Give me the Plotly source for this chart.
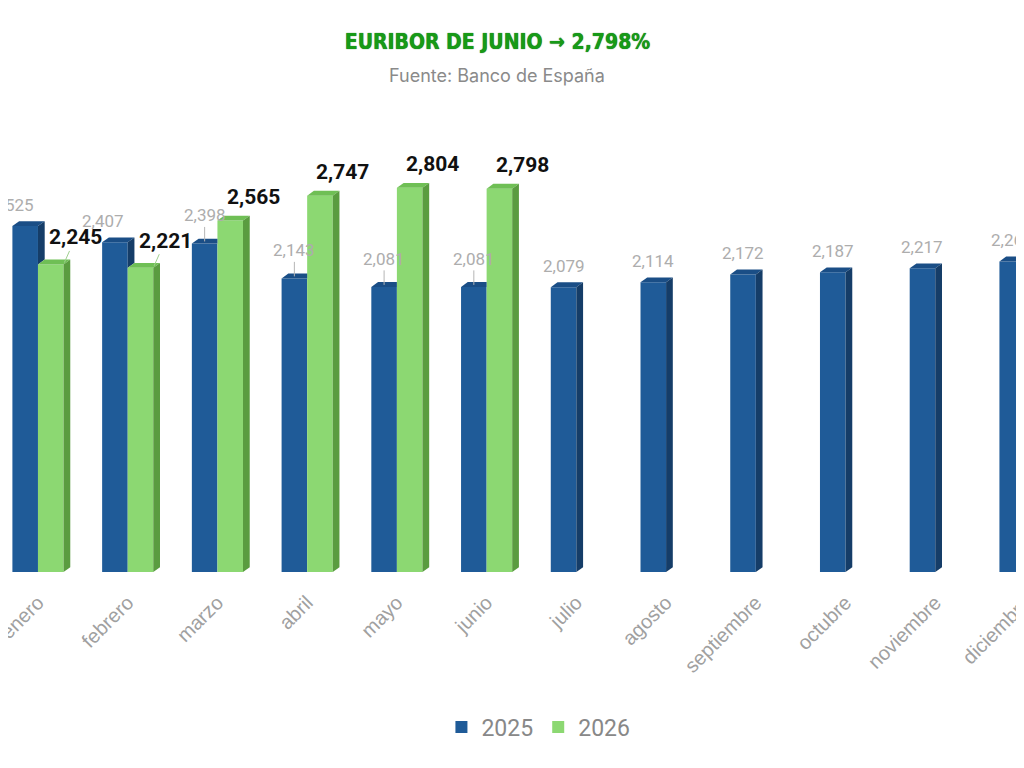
import plotly.graph_objects as go

# data
MONTHS = ['enero', 'febrero', 'marzo', 'abril', 'mayo', 'junio', 'julio',
          'agosto', 'septiembre', 'octubre', 'noviembre', 'diciembre']
EUR_2025 = [2.525, 2.407, 2.398, 2.143, 2.081, 2.081, 2.079,
            2.114, 2.172, 2.187, 2.217, 2.267]
EUR_2026 = [2.245, 2.221, 2.565, 2.747, 2.804, 2.798]

BLUE = '#1f5b98'
BLUE_TOP = '#1a4e86'
BLUE_SIDE = '#153d68'
GREEN = '#8cd872'
GREEN_TOP = '#6fbf55'
GREEN_SIDE = '#5a9c40'

W = 0.285      # bar width (x units)
DX = 0.075     # depth of the fake 3d
DY = 0.035


def fmt(v):
    return f'{v:.3f}'.replace('.', ',')


def poly(xs, ys, color):
    return go.Scatter(x=xs + [xs[0]], y=ys + [ys[0]], mode='lines', fill='toself',
                      fillcolor=color, line=dict(width=0), hoverinfo='skip',
                      showlegend=False)


idx = list(range(len(MONTHS)))
fig = go.Figure()

fig.add_trace(go.Bar(x=idx, y=EUR_2025, width=W, offset=-W, name='2025',
                     marker=dict(color=BLUE, line=dict(width=0))))
fig.add_trace(go.Bar(x=idx[:len(EUR_2026)], y=EUR_2026, width=W, offset=0, name='2026',
                     marker=dict(color=GREEN, line=dict(width=0))))

# top and side faces of the blue bars
for i, v in enumerate(EUR_2025):
    x0, x1 = i - W, i
    g = EUR_2026[i] if i < len(EUR_2026) else None
    if g is None:
        fig.add_trace(poly([x0, x0 + DX, x1 + DX, x1], [v, v + DY, v + DY, v], BLUE_TOP))
        fig.add_trace(poly([x1, x1 + DX, x1 + DX, x1], [0, DY, v + DY, v], BLUE_SIDE))
    elif v > g:
        fig.add_trace(poly([x0, x0 + DX, x1 + DX, x1], [v, v + DY, v + DY, v], BLUE_TOP))
        fig.add_trace(poly([x1, x1 + DX, x1 + DX, x1], [g, g + DY, v + DY, v], BLUE_SIDE))
    else:
        fig.add_trace(poly([x0, x0 + DX, x1, x1], [v, v + DY, v + DY, v], BLUE_TOP))

# top and side faces of the green bars
for i, v in enumerate(EUR_2026):
    x0, x1 = i, i + W
    fig.add_trace(poly([x0, x0 + DX, x1 + DX, x1], [v, v + DY, v + DY, v], GREEN_TOP))
    fig.add_trace(poly([x1, x1 + DX, x1 + DX, x1], [0, DY, v + DY, v], GREEN_SIDE))

annotations = []
for i, v in enumerate(EUR_2025):
    g = EUR_2026[i] if i < len(EUR_2026) else None
    xc = i - W / 2
    if g is not None and g > v:
        annotations.append(dict(x=xc, y=v, text=fmt(v), showarrow=True, arrowhead=0,
                                arrowwidth=1, arrowcolor='#b5b5b5', ax=0, ay=-28,
                                standoff=2, font=dict(size=17, color='#adadad', family='Roboto')))
    else:
        annotations.append(dict(x=xc, y=v, text=fmt(v), showarrow=False,
                                xshift=-12 if g is not None else 0, yshift=21,
                                font=dict(size=17, color='#adadad', family='Roboto')))

for i, v in enumerate(EUR_2026):
    b = EUR_2025[i]
    if b > v:
        annotations.append(dict(x=i + W, y=v, text=fmt(v), showarrow=True, arrowhead=0,
                                arrowwidth=1, arrowcolor='#9fcf8f', ax=12, ay=-27,
                                standoff=2, font=dict(size=21, color='#111111', family='Roboto',
                                                      weight='bold')))
    else:
        annotations.append(dict(x=i + W / 2, y=v, text=fmt(v), showarrow=False,
                                xshift=23, yshift=24,
                                font=dict(size=21, color='#111111', family='Roboto',
                                          weight='bold')))

annotations.append(dict(x=0.478, y=1.124, xref='paper', yref='paper', yanchor='middle',
                        text='Fuente: Banco de España', showarrow=False,
                        font=dict(size=18, color='#8a8a8a', family='Inter')))

fig.update_layout(
    width=1024, height=768,
    margin=dict(l=0, r=0, t=122, b=204),
    paper_bgcolor='white', plot_bgcolor='white',
    title=dict(text='EURIBOR DE JUNIO → 2,798%', x=0.478, xanchor='center',
               y=0.956, yanchor='middle',
               font=dict(family='Liberation Sans Narrow, DejaVu Sans Condensed, sans-serif',
                         size=21, color='#179a17', weight='bold',
                         shadow='0px 0px 1px #0b5a0b')),
    xaxis=dict(range=[-0.334, 11.078], tickvals=idx, ticktext=MONTHS, tickangle=-45,
               showgrid=False, zeroline=False, showline=False, ticks='',
               ticklabelstandoff=14, ticklabeloverflow='allow', automargin=False,
               tickfont=dict(size=20, color='#a0a0a0', family='Liberation Sans')),
    yaxis=dict(range=[0, 3.226], visible=False, automargin=False),
    barmode='overlay',
    showlegend=True,
    legend=dict(orientation='h', x=0.518, xanchor='center', y=-0.351, yanchor='middle',
                font=dict(size=23, color='#888888', family='Roboto'),
                itemwidth=30, traceorder='normal'),
    annotations=annotations,
)

fig.write_html('out.html', config={'displayModeBar': False})
